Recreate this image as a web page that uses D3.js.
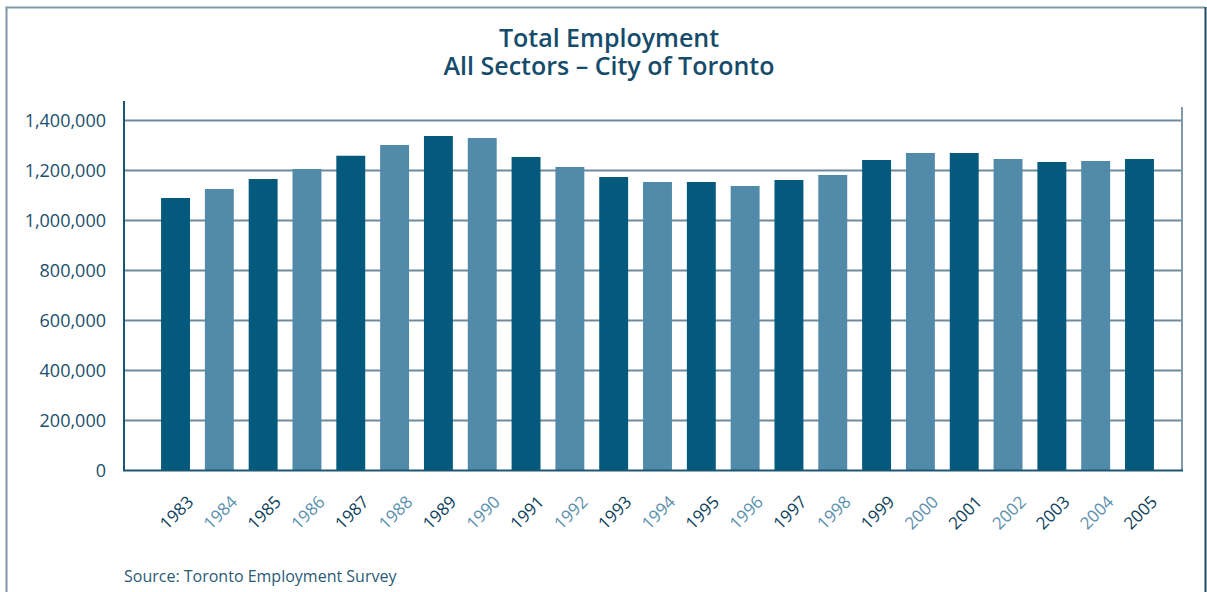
<!DOCTYPE html>
<html>
<head>
<meta charset="utf-8">
<script src="https://cdn.jsdelivr.net/npm/d3@7"></script>
<style>
  body { margin: 0; background: #fff; }
  svg { display: block; }
  text { font-family: "Open Sans", sans-serif; }
</style>
</head>
<body>
<svg id="chart" width="1207" height="592"></svg>
<script>
const years = ["1983","1984","1985","1986","1987","1988","1989","1990","1991","1992","1993","1994",
               "1995","1996","1997","1998","1999","2000","2001","2002","2003","2004","2005"];
const employment = [1090000,1126000,1166000,1206000,1259000,1302000,1338000,1330000,1254000,1214000,1174000,1154000,
                    1154000,1138000,1162000,1182000,1242000,1270000,1270000,1246000,1234000,1238000,1246000];
const yTicks = [0,200000,400000,600000,800000,1000000,1200000,1400000];
const titleLines = ["Total Employment", "All Sectors \u2013 City of Toronto"];
const source = "Source: Toronto Employment Survey";

const dark = "#035a7c", light = "#528aa9";
const svg = d3.select("#chart");

// frame
svg.append("path")
  .attr("d", "M6.5,600 V7.5 H1205")
  .attr("fill", "none").attr("stroke", "#7f98a8").attr("stroke-width", 2);
svg.append("line")
  .attr("x1", 1205.5).attr("x2", 1205.5).attr("y1", 7).attr("y2", 600)
  .attr("stroke", "#1a4a63").attr("stroke-width", 2);

// title, one text with two lines
let title = svg.append("text")
  .attr("x", 609).attr("y", 47)
  .attr("text-anchor", "middle")
  .attr("font-size", 25).attr("font-weight", 600)
  .attr("fill", "#164c6b");
title.selectAll("tspan").data(titleLines).enter().append("tspan")
  .attr("x", 609).attr("dy", (d, i) => i ? 28 : 0)
  .text(d => d);

let y = d3.scaleLinear().domain([0, 1400000]).range([470.5, 120.5]);
let x = d3.scaleBand().domain(years).range([153.6, 1161.4]).paddingInner(0.34).paddingOuter(0.17);

// gridlines
svg.selectAll(".grid").data(yTicks.filter(d => d > 0)).enter().append("line")
  .attr("x1", 124).attr("x2", 1182)
  .attr("y1", d => y(d)).attr("y2", d => y(d))
  .attr("stroke", "#6f8b9b").attr("stroke-width", 2);

// y labels
svg.selectAll(".ylab").data(yTicks).enter().append("text")
  .attr("x", 106).attr("y", d => y(d)).attr("dy", "0.34em")
  .attr("text-anchor", "end").attr("font-size", 18)
  .attr("fill", "#1c4f6d")
  .text(d => d3.format(",")(d));

// bars
svg.selectAll(".bar").data(employment).enter().append("rect")
  .attr("x", (d, i) => x(years[i]))
  .attr("width", x.bandwidth())
  .attr("y", d => y(d))
  .attr("height", d => y(0) - y(d))
  .attr("fill", (d, i) => i % 2 ? light : dark);

// axes lines
svg.append("line").attr("x1", 124).attr("x2", 124).attr("y1", 101).attr("y2", 471)
  .attr("stroke", "#1d5673").attr("stroke-width", 2);
svg.append("line").attr("x1", 1182).attr("x2", 1182).attr("y1", 107).attr("y2", 471)
  .attr("stroke", "#7f9aaa").attr("stroke-width", 2);
svg.append("line").attr("x1", 123).attr("x2", 1183).attr("y1", 470.5).attr("y2", 470.5)
  .attr("stroke", "#1d5673").attr("stroke-width", 2);

// x labels
svg.selectAll(".xlab").data(years).enter().append("text")
  .attr("transform", d => `translate(${x(d) + x.bandwidth() / 2 + 19},503) rotate(-45)`)
  .attr("text-anchor", "end").attr("font-size", 17)
  .attr("fill", (d, i) => i % 2 ? "#5a90ad" : "#0e3f5c")
  .text(d => d);

// source
svg.append("text")
  .attr("x", 124).attr("y", 582)
  .attr("font-size", 16).attr("fill", "#2b5a76")
  .text(source);
</script>
</body>
</html>
